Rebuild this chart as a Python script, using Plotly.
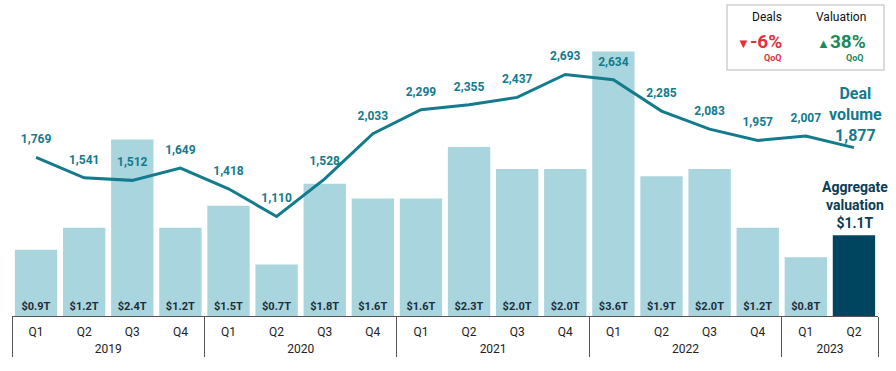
import plotly.graph_objects as go

years = ['2019'] * 4 + ['2020'] * 4 + ['2021'] * 4 + ['2022'] * 4 + ['2023'] * 2
quarters = ['Q1', 'Q2', 'Q3', 'Q4'] * 4 + ['Q1', 'Q2']
valuation = [0.9, 1.2, 2.4, 1.2, 1.5, 0.7, 1.8, 1.6, 1.6, 2.3, 2.0, 2.0, 3.6, 1.9, 2.0, 1.2, 0.8, 1.1]
deals = [1769, 1541, 1512, 1649, 1418, 1110, 1528, 2033, 2299, 2355, 2437, 2693, 2634, 2285, 2083, 1957, 2007, 1877]

LIGHT = '#a9d5de'
DARK = '#004560'
TEAL = '#137b8c'

bar_colors = [LIGHT] * (len(valuation) - 1) + [DARK]
bar_text = [f'${v:.1f}T' for v in valuation[:-1]] + ['']
line_text = [f'{d:,}' for d in deals[:-1]] + ['']

# tick labels: quarter row and year row (year row pushed down with a small leading line)
q_lbl = [f'<span style="font-size:12px">{q}</span>' for q in quarters]
y_lbl = [f'<br><span style="font-size:12px">{y}</span>' for y in years]

fig = go.Figure()
fig.add_trace(go.Bar(
    x=[y_lbl, q_lbl], y=valuation,
    marker=dict(color=bar_colors, line=dict(width=0)),
    text=bar_text, textposition='inside', insidetextanchor='start', textangle=0,
    textfont=dict(color='#1f2d3a', size=11, family='Roboto', weight='bold'),
    cliponaxis=False, showlegend=False,
))
fig.add_trace(go.Scatter(
    x=[y_lbl, q_lbl], y=deals, yaxis='y2',
    mode='lines+markers+text', line=dict(color=TEAL, width=3),
    marker=dict(size=16, color='rgba(0,0,0,0)'),
    text=line_text, textposition='top center',
    textfont=dict(color=TEAL, size=12, family='Roboto', weight='bold'),
    cliponaxis=False, showlegend=False,
))

PL, PR, PT, PB = 12, 878, 20, 316
W, H = 896, 371
ph = PB - PT

def px(x):
    return (x - PL) / (PR - PL)

def py(y):
    return (PB - y) / ph

fig.update_layout(
    width=W, height=H,
    margin=dict(l=PL, r=W - PR, t=PT, b=H - PB),
    plot_bgcolor='white', paper_bgcolor='white',
    font=dict(family='Roboto', color='#222'),
    bargap=0.12,
    xaxis=dict(type='multicategory', range=[-0.5, len(deals) - 0.5],
               showline=True, linecolor='#555', linewidth=1,
               showdividers=True, dividercolor='#555', dividerwidth=1, automargin=False,
               ticklabelstandoff=9,
               tickfont=dict(size=8, color='#222'), showgrid=False),
    yaxis=dict(range=[0, ph / 73.5], visible=False, showgrid=False, automargin=False),
    yaxis2=dict(range=[0, ph / 0.0897], overlaying='y', visible=False, showgrid=False, automargin=False),
)

anns = [
    dict(x=px(855), y=py(114), text='Deal<br>volume<br>1,877', font=dict(size=16, color=TEAL, family='Roboto', weight='bold'),
         yanchor='middle', xanchor='center'),
    dict(x=px(855), y=py(233), text='Aggregate<br>valuation<br>$1.1T', font=dict(size=14, color='#0b3c55', family='Roboto', weight='bold'),
         yanchor='bottom', xanchor='center'),
    dict(x=px(784), y=py(17), text='Deals', font=dict(size=12, color='#111', family='Roboto'), xanchor='right', yanchor='middle'),
    dict(x=px(868), y=py(17), text='Valuation', font=dict(size=12, color='#111', family='Roboto'), xanchor='right', yanchor='middle'),
    dict(x=px(784), y=py(41), text='<span style="font-size:13px">▼</span>-6%', font=dict(size=19, color='#e0313e', family='Roboto', weight='bold'), xanchor='right', yanchor='middle'),
    dict(x=px(868), y=py(41), text='<span style="font-size:13px">▲</span>38%', font=dict(size=19, color='#1b8a5c', family='Roboto', weight='bold'), xanchor='right', yanchor='middle'),
    dict(x=px(784), y=py(58), text='QoQ', font=dict(size=9, color='#e0313e', family='Roboto', weight='bold'), xanchor='right', yanchor='middle'),
    dict(x=px(866), y=py(58), text='QoQ', font=dict(size=9, color='#1b8a5c', family='Roboto', weight='bold'), xanchor='right', yanchor='middle'),
]
for a in anns:
    a.update(xref='paper', yref='paper', showarrow=False)
fig.update_layout(annotations=anns)

fig.add_shape(type='rect', xref='paper', yref='paper', x0=px(727), x1=px(884), y0=py(70), y1=py(5),
              line=dict(color='#d0d0d0', width=1.5), fillcolor='rgba(0,0,0,0)')

fig.write_html('out.html', config={'displayModeBar': False},
               post_script="document.body.style.margin='0px';document.body.style.padding='0px';")
